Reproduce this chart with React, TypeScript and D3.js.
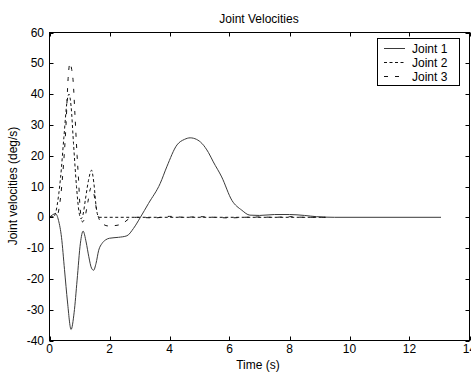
import * as d3 from "d3";

const xTicks = [0, 2, 4, 6, 8, 10, 12, 14];
const yTicks = [-40, -30, -20, -10, 0, 10, 20, 30, 40, 50, 60];

const joint1T = [0, 0.1, 0.2, 0.3, 0.4, 0.5, 0.6, 0.72, 0.82, 0.92, 1.03, 1.12, 1.22, 1.31, 1.4, 1.47, 1.55, 1.64, 1.75, 1.86, 2.0, 2.3, 2.58, 2.8, 3.03, 3.3, 3.69, 3.91, 4.25, 4.5, 4.69, 4.9, 5.08, 5.3, 5.46, 5.74, 6.08, 6.41, 6.68, 7.0, 7.5, 8.0, 8.5, 8.9, 9.5, 13.05];
const joint1V = [0, 0.8, 1.2, -1, -6.5, -17, -27.5, -36.4, -31, -20.4, -8.4, -4.5, -8, -12.8, -16.5, -17.2, -15, -10.7, -8.5, -7.4, -6.8, -6.5, -6.0, -3.6, 0, 4.5, 11, 16.4, 23.5, 25.3, 25.8, 25.3, 24, 21, 18, 13.1, 5.5, 2.3, 0.7, 0.6, 0.9, 0.9, 0.6, 0.2, 0, 0];

const joint2T = [0, 0.15, 0.2, 0.31, 0.37, 0.48, 0.59, 0.65, 0.72, 0.8, 0.9, 0.98, 1.05, 1.12, 1.2, 1.3, 1.4, 1.48, 1.56, 1.65, 2.0, 9.2];
const joint2V = [0, 0.3, 1.3, 7.7, 13, 26, 38, 40, 36, 24, 10, 2, -0.5, 1, 6, 12, 15.3, 11, 3, 0, 0, 0];

const joint3T = [0, 0.25, 0.35, 0.45, 0.55, 0.62, 0.68, 0.74, 0.79, 0.85, 0.92, 0.97, 1.02, 1.1, 1.18, 1.28, 1.38, 1.47, 1.56, 1.65, 1.8, 1.95, 2.25, 2.45, 2.69, 2.9, 3.5, 4.0, 4.5, 5.0, 5.5, 6.0, 6.5, 7.0, 7.5, 8.0, 8.5, 9.2];
const joint3V = [0, 0.5, 5, 15, 30, 45, 50, 48, 44, 33, 20, 12, 3, -1.5, 0, 5, 9.5, 8, 3, -0.5, -2.3, -2.8, -2.6, -1.9, -0.3, 0, -0.2, 0.3, 0, 0.2, 0, -0.2, 0, 0.1, 0, 0.2, 0, 0];

const seriesNames = ["Joint 1", "Joint 2", "Joint 3"];

const FONT = "'Liberation Sans', Arial, sans-serif";

export default function App() {
  const width = 471;
  const height = 374;
  const left = 49.5, right = 469.5, top = 32.5, bottom = 340.5;

  const x = d3.scaleLinear().domain([0, 14]).range([left, right]);
  const y = d3.scaleLinear().domain([-40, 60]).range([bottom, top]);

  const line = d3
    .line<[number, number]>()
    .x((d) => x(d[0]))
    .y((d) => y(d[1]))
    .curve(d3.curveMonotoneX);

  const series = [
    { name: seriesNames[0], pts: joint1T.map((t, i) => [t, joint1V[i]] as [number, number]), dash: "none", color: "#3a3a3a" },
    { name: seriesNames[1], pts: joint2T.map((t, i) => [t, joint2V[i]] as [number, number]), dash: "3,2.5", color: "#111" },
    { name: seriesNames[2], pts: joint3T.map((t, i) => [t, joint3V[i]] as [number, number]), dash: "4,7", color: "#111" },
  ];

  const tickLen = 4;

  return (
    <svg
      width={width}
      height={height}
      style={{ position: "absolute", left: 0, top: 0, background: "#fff" }}
      fontFamily={FONT}
    >
      <rect x={0} y={0} width={width} height={height} fill="#fff" />
      <defs>
        <clipPath id="plotClip">
          <rect x={left} y={top} width={right - left} height={bottom - top} />
        </clipPath>
      </defs>

      {/* curves */}
      <g clipPath="url(#plotClip)">
        {series.map((s) => (
          <path
            key={s.name}
            d={line(s.pts) || ""}
            fill="none"
            stroke={s.color}
            strokeWidth={1}
            strokeDasharray={s.dash}
          />
        ))}
      </g>

      {/* frame */}
      <rect x={left} y={top} width={right - left} height={bottom - top} fill="none" stroke="#000" strokeWidth={1} />

      {/* x ticks */}
      {xTicks.map((t) => (
        <g key={"x" + t}>
          <line x1={Math.round(x(t)) + 0.5} x2={Math.round(x(t)) + 0.5} y1={bottom} y2={bottom - tickLen} stroke="#000" />
          <line x1={Math.round(x(t)) + 0.5} x2={Math.round(x(t)) + 0.5} y1={top} y2={top + tickLen} stroke="#000" />
          <text x={x(t)} y={353} textAnchor="middle" fontSize={12} fill="#000">
            {t}
          </text>
        </g>
      ))}

      {/* y ticks */}
      {yTicks.map((v) => (
        <g key={"y" + v}>
          <line x1={left} x2={left + tickLen} y1={Math.round(y(v)) + 0.5} y2={Math.round(y(v)) + 0.5} stroke="#000" />
          <line x1={right} x2={right - tickLen} y1={Math.round(y(v)) + 0.5} y2={Math.round(y(v)) + 0.5} stroke="#000" />
          <text x={44} y={y(v) + 4} textAnchor="end" fontSize={12} fill="#000">
            {v}
          </text>
        </g>
      ))}

      {/* title & labels */}
      <text x={259} y={23} textAnchor="middle" fontSize={12} fill="#000">
        Joint Velocities
      </text>
      <text x={258} y={369} textAnchor="middle" fontSize={12} fill="#000">
        Time (s)
      </text>
      <text
        transform={`translate(17, 186) rotate(-90)`}
        textAnchor="middle"
        fontSize={12}
        fill="#000"
      >
        Joint velocities (deg/s)
      </text>

      {/* legend */}
      <g>
        <rect x={377.5} y={38.5} width={82} height={47} fill="#fff" stroke="#000" />
        {series.map((s, i) => (
          <g key={"leg" + s.name}>
            <line
              x1={384}
              x2={405}
              y1={48.5 + i * 14}
              y2={48.5 + i * 14}
              stroke={s.color}
              strokeDasharray={s.dash}
            />
            <text x={412} y={52.5 + i * 14} fontSize={12} fill="#000">
              {s.name}
            </text>
          </g>
        ))}
      </g>
    </svg>
  );
}
